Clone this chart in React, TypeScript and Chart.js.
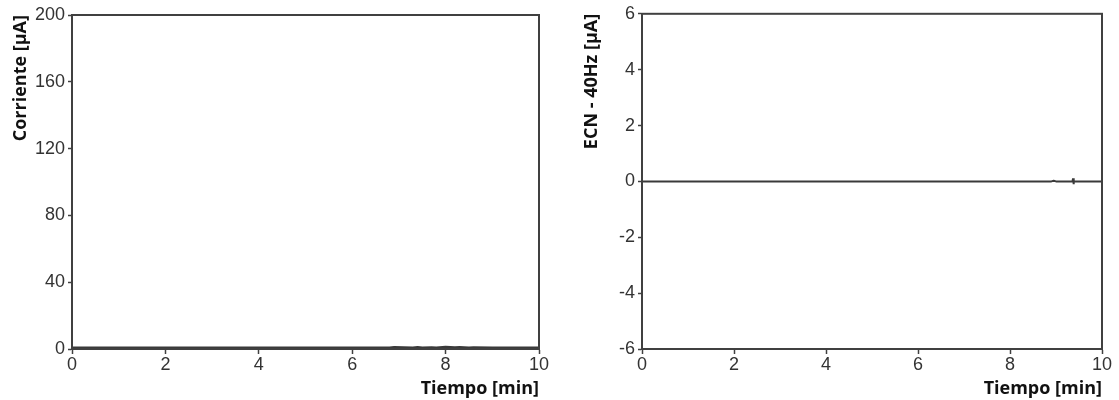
import React, { useEffect, useRef } from "react";
import { Chart, registerables } from "chart.js";

Chart.register(...registerables);

// Left panel: Corriente [µA] vs Tiempo [min]
const leftTime = [0, 1, 2, 3, 4, 5, 6, 6.8, 6.9, 7.3, 7.4, 7.5, 7.7, 7.8, 8.0, 8.2, 8.3, 8.5, 8.6, 9, 9.5, 10];
const leftValues = [0.6, 0.6, 0.6, 0.6, 0.6, 0.6, 0.6, 0.6, 0.9, 0.6, 0.9, 0.6, 0.8, 0.6, 1.0, 0.7, 0.9, 0.6, 0.8, 0.6, 0.6, 0.6];
const leftYTicks = [0, 40, 80, 120, 160, 200];

// Right panel: ECN - 40Hz [µA] vs Tiempo [min]
const rightTime = [0, 1, 2, 3, 4, 5, 6, 7, 8, 8.9, 8.95, 9.0, 9.36, 9.37, 9.38, 9.39, 9.5, 10];
const rightValues = [0, 0, 0, 0, 0, 0, 0, 0, 0, 0, 0.02, 0, 0, 0.11, -0.1, 0, 0, 0];
const rightYTicks = [-6, -4, -2, 0, 2, 4, 6];
const xTicks = [0, 2, 4, 6, 8, 10];

const AXIS = "#404040";
const TEXT = "#333333";
const TICK_FONT = { family: "Liberation Sans, Arial, sans-serif", size: 18 };
const TITLE_FONT = { family: "'Open Sans', Lato, sans-serif", size: 18, weight: "bold" as const };

const framePlugin = {
  id: "frame",
  afterDraw(chart: any) {
    const { ctx, chartArea } = chart;
    ctx.save();
    ctx.strokeStyle = AXIS;
    ctx.lineWidth = 2;
    ctx.strokeRect(chartArea.left, chartArea.top, chartArea.right - chartArea.left, chartArea.bottom - chartArea.top);
    ctx.restore();
  },
};

function makeConfig(opts: {
  xs: number[];
  ys: number[];
  yTicks: number[];
  yMin: number;
  yMax: number;
  yTitle: string;
  yWidth: number;
  titlePad: number;
  padding: { top: number; right: number; left: number; bottom: number };
  lineWidth: number;
}) {
  const data = opts.xs.map((x, i) => ({ x, y: opts.ys[i] }));
  return {
    type: "line" as const,
    data: {
      datasets: [
        {
          data,
          borderColor: "#3a3a3a",
          borderWidth: opts.lineWidth,
          borderJoinStyle: "bevel" as const,
          pointRadius: 0,
          tension: 0,
          fill: false,
        },
      ],
    },
    options: {
      animation: false as const,
      responsive: false,
      devicePixelRatio: 1,
      layout: { padding: opts.padding },
      plugins: { legend: { display: false }, tooltip: { enabled: false } },
      scales: {
        x: {
          type: "linear" as const,
          min: 0,
          max: 10,
          afterBuildTicks: (s: any) => {
            s.ticks = xTicks.map((v) => ({ value: v }));
          },
          afterFit: (s: any) => {
            s.height = 51;
          },
          grid: { drawOnChartArea: false, drawTicks: true, tickLength: 5, color: AXIS, tickWidth: 1.5 },
          border: { color: AXIS, width: 2 },
          ticks: { color: TEXT, font: TICK_FONT, padding: 0, maxRotation: 0 },
          title: {
            display: true,
            text: "Tiempo [min]",
            align: "end" as const,
            color: "#111",
            font: TITLE_FONT,
            padding: { top: 0, bottom: 0 },
          },
        },
        y: {
          type: "linear" as const,
          min: opts.yMin,
          max: opts.yMax,
          afterBuildTicks: (s: any) => {
            s.ticks = opts.yTicks.map((v) => ({ value: v }));
          },
          afterFit: (s: any) => {
            s.width = opts.yWidth;
          },
          grid: { drawOnChartArea: false, drawTicks: true, tickLength: 4, color: AXIS, tickWidth: 1.5 },
          border: { color: AXIS, width: 2 },
          ticks: { color: TEXT, font: TICK_FONT, padding: 3 },
          title: {
            display: true,
            text: opts.yTitle,
            align: "end" as const,
            color: "#111",
            font: TITLE_FONT,
            padding: { top: opts.titlePad, bottom: 0 },
          },
        },
      },
    },
    plugins: [framePlugin],
  };
}

function Panel(props: { left: number; width: number; config: any }) {
  const ref = useRef<HTMLCanvasElement>(null);
  useEffect(() => {
    const chart = new Chart(ref.current as HTMLCanvasElement, props.config);
    return () => chart.destroy();
  }, []);
  return (
    <div style={{ position: "absolute", left: props.left, top: 0, width: props.width, height: 400 }}>
      <canvas ref={ref} width={props.width} height={400} style={{ width: props.width, height: 400, display: "block" }} />
    </div>
  );
}

export default function App() {
  const leftConfig = makeConfig({
    xs: leftTime,
    ys: leftValues,
    yTicks: leftYTicks,
    yMin: 0,
    yMax: 200,
    yTitle: "Corriente [µA]",
    yWidth: 72,
    titlePad: 10,
    padding: { top: 15, right: 21, left: 0, bottom: 0 },
    lineWidth: 3,
  });
  const rightConfig = makeConfig({
    xs: rightTime,
    ys: rightValues,
    yTicks: rightYTicks,
    yMin: -6,
    yMax: 6,
    yTitle: "ECN - 40Hz [µA]",
    yWidth: 82,
    titlePad: 21,
    padding: { top: 12, right: 17, left: 0, bottom: 0 },
    lineWidth: 2,
  });
  return (
    <div style={{ position: "fixed", left: 0, top: 0, width: 1119, height: 400, background: "#fff" }}>
      <Panel left={0} width={560} config={leftConfig} />
      <Panel left={560} width={559} config={rightConfig} />
    </div>
  );
}
